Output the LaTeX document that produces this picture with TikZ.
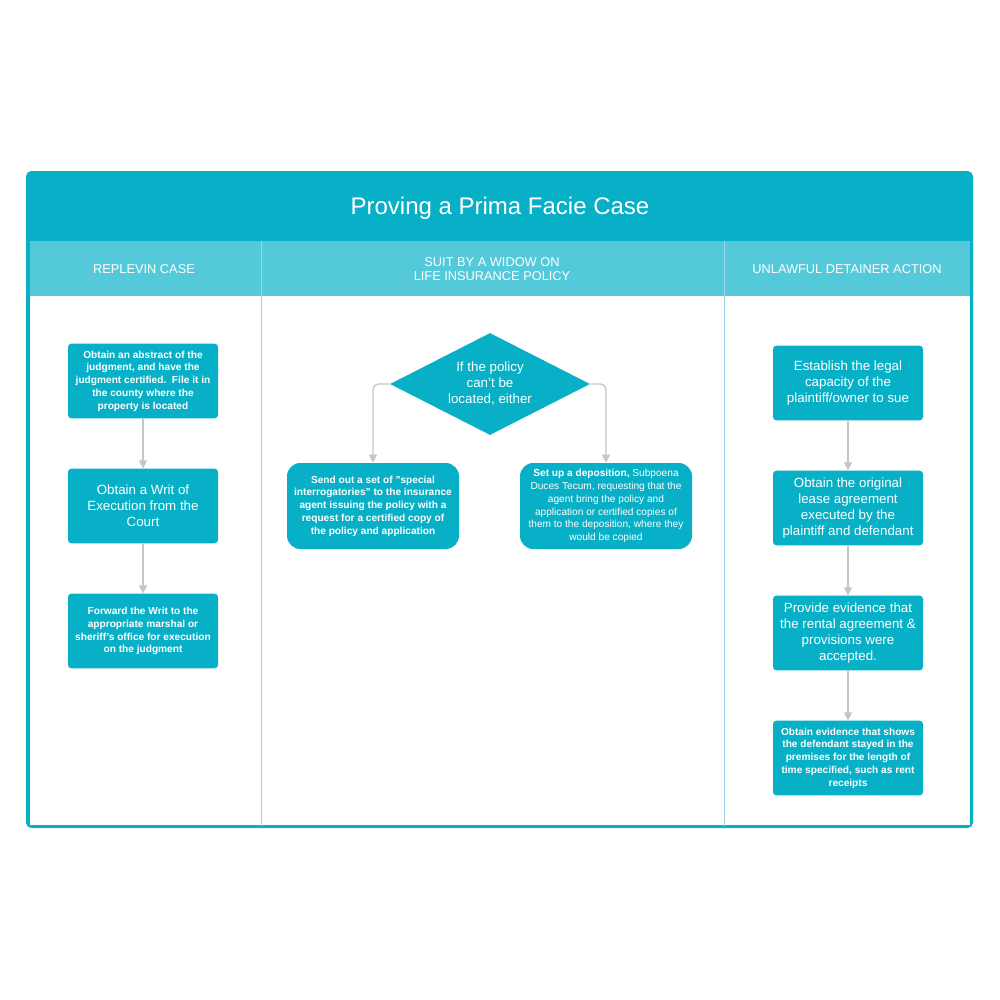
\documentclass[tikz,border=0pt]{standalone}
\usepackage{fontspec}
\setmainfont{Liberation Sans}
\usetikzlibrary{shapes.geometric,arrows.meta}
\definecolor{teal}{HTML}{07B0C6}
\definecolor{lightteal}{HTML}{54C9D9}
\definecolor{divider}{HTML}{9FD3E6}
\definecolor{arrowgray}{HTML}{C6C6C6}
\begin{document}
\begin{tikzpicture}
		[x=0.75pt,y=-0.75pt,
		stepbox/.style={
			rectangle,
			rounded corners=2.5pt,
			fill=teal,
			text=white,
			align=center,
			inner sep=1pt,
			minimum width=112.5pt,
			minimum height=56pt
		},
		small/.style={font=\fontsize{7.6}{9.6}\selectfont\bfseries},
		big/.style={font=\fontsize{10}{12}\selectfont},
		roundbox/.style={stepbox,rounded corners=10pt,minimum width=129pt,minimum height=64.5pt},
		decision/.style={diamond,fill=teal,text=white,align=center,inner sep=0pt,
			minimum width=150pt,minimum height=76.5pt,aspect=2,font=\fontsize{10}{12}\selectfont},
		header/.style={text=white,align=center,font=\fontsize{9.6}{11}\selectfont},
		link/.style={draw=arrowgray,line width=1pt,-{Triangle[length=6pt,width=6pt]}}]
		\useasboundingbox (0,0) rectangle (1000,1000);
		% frame, title and column headers
		\fill[teal,rounded corners=4pt] (26,171) rectangle (973,828);
		\fill[white] (30,296) rectangle (970,825);
		\fill[lightteal] (30,241) rectangle (970,296);
		\draw[divider,line width=0.6pt] (261,241) -- (261,826) (724,241) -- (724,826);
		\node[text=white,font=\fontsize{18}{20}\selectfont] (title) at (500,208) {Proving a Prima Facie Case};
		\node[header] (hleft) at (144,269) {REPLEVIN CASE};
		\node[header] (hmid) at (492,269) {SUIT BY A WIDOW ON\\LIFE INSURANCE POLICY};
		\node[header] (hright) at (847,269) {UNLAWFUL DETAINER ACTION};
		% replevin case
		\node[stepbox,small] (abstract) at (143,381) {Obtain an abstract of the\\judgment, and have the\\judgment certified.\ \ File it in\\the county where the\\property is located};
		\node[stepbox,big] (writ) at (143,506) {Obtain a Writ of\\Execution from the\\Court};
		\node[stepbox,small] (forward) at (143,631) {Forward the Writ to the\\appropriate marshal or\\sheriff's office for execution\\on the judgment};
		\draw[link] (abstract) -- (writ);
		\draw[link] (writ) -- (forward);
		% suit by a widow
		\node[decision] (policy) at (490,384) {If the policy\\can't be\\located, either};
		\node[roundbox,small] (interrog) at (373,506) {Send out a set of "special\\interrogatories" to the insurance\\agent issuing the policy with a\\request for a certified copy of\\the policy and application};
		\node[roundbox,small] (deposition) at (606,506) {Set up a deposition, {\mdseries Subpoena}\\{\mdseries Duces Tecum, requesting that the}\\{\mdseries agent bring the policy and}\\{\mdseries application or certified copies of}\\{\mdseries them to the deposition, where they}\\{\mdseries would be copied}};
		\draw[link,rounded corners=4pt] (policy.west) -| (interrog.north);
		\draw[link,rounded corners=4pt] (policy.east) -| (deposition.north);
		% unlawful detainer
		\node[stepbox,big] (capacity) at (848,383) {Establish the legal\\capacity of the\\plaintiff/owner to sue};
		\node[stepbox,big] (lease) at (848,508) {Obtain the original\\lease agreement\\executed by the\\plaintiff and defendant};
		\node[stepbox,big] (rental) at (848,633) {Provide evidence that\\the rental agreement \&\\provisions were\\accepted.};
		\node[stepbox,small] (receipts) at (848,758) {Obtain evidence that shows\\the defendant stayed in the\\premises for the length of\\time specified, such as rent\\receipts};
		\draw[link] (capacity) -- (lease);
		\draw[link] (lease) -- (rental);
		\draw[link] (rental) -- (receipts);
\end{tikzpicture}
\end{document}
